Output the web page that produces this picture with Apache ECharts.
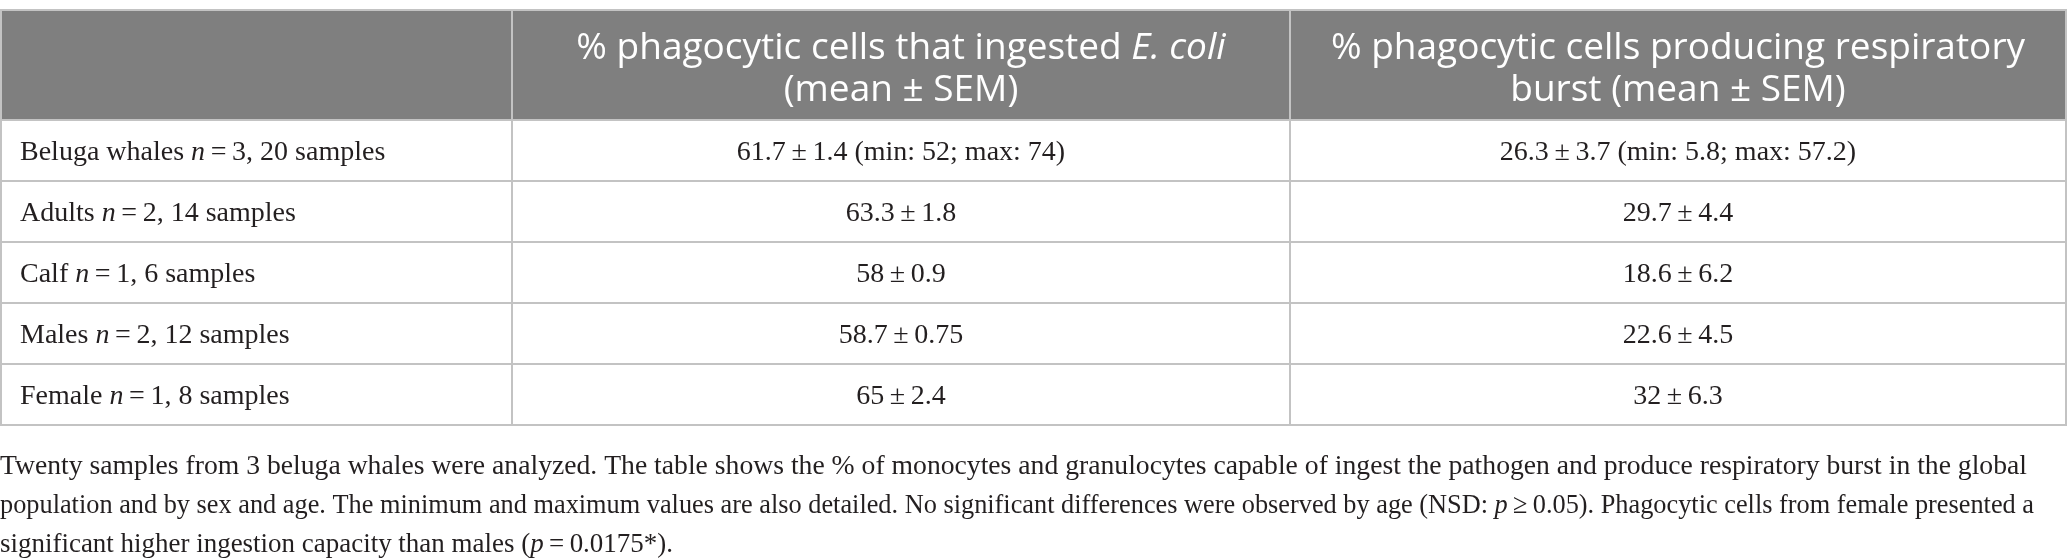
<!DOCTYPE html>
<html>
<head>
<meta charset="utf-8">
<script src="https://cdn.jsdelivr.net/npm/echarts@6/dist/echarts.min.js"></script>
<style>
html, body { margin: 0; padding: 0; background: #fff; }
#main { width: 2067px; height: 559px; }
</style>
</head>
<body>
<div id="main"></div>
<script>
// table content
var headers = ['', '% phagocytic cells that ingested {i|E. coli}\n(mean \u00b1 SEM)', '% phagocytic cells producing respiratory\nburst (mean \u00b1 SEM)'];
var groups = ['Beluga whales', 'Adults', 'Calf', 'Males', 'Female'];
var nWhales = [3, 2, 1, 2, 1];
var nSamples = [20, 14, 6, 12, 8];
var ingestMean = [61.7, 63.3, 58, 58.7, 65];
var ingestSem = [1.4, 1.8, 0.9, 0.75, 2.4];
var ingestMin = [52, null, null, null, null];
var ingestMax = [74, null, null, null, null];
var burstMean = [26.3, 29.7, 18.6, 22.6, 32];
var burstSem = [3.7, 4.4, 6.2, 4.5, 6.3];
var burstMin = [5.8, null, null, null, null];
var burstMax = [57.2, null, null, null, null];
var notes = [
	'Twenty samples from 3 beluga whales were analyzed. The table shows the % of monocytes and granulocytes capable of ingest the pathogen and produce respiratory burst in the global',
	'population and by sex and age. The minimum and maximum values are also detailed. No significant differences were observed by age (NSD: {i|p}\u2009\u2265\u20090.05). Phagocytic cells from female presented a',
	'significant higher ingestion capacity than males ({i|p}\u2009=\u20090.0175*).'
];

// layout (pixels on the hidden axes)
var COL_EDGES = [1, 512, 1290, 2066];
var ROW_EDGES = [10, 120, 181, 242, 303, 364, 425];
var NOTE_WIDTH = [2027, 2034, 673];
var HEAD_BG = '#7f7f7f';
var LINE = '#c3c3c3';
var SANS = '"Open Sans", "Noto Sans", sans-serif';
var SERIF = '"Liberation Serif", "DejaVu Serif", serif';

function meanSem(m, s, lo, hi) {
	var t = m + '\u2009\u00b1\u2009' + s;
	if (lo != null) {
		t += ' (min: ' + lo + '; max: ' + hi + ')';
	}
	return t;
}

var cells = [];
for (var c = 0; c < 3; c++) {
	cells.push({ value: [c, 0], text: headers[c] });
}
for (var i = 0; i < groups.length; i++) {
	cells.push({ value: [0, i + 1], text: groups[i] + ' {i|n}\u2009=\u2009' + nWhales[i] + ', ' + nSamples[i] + ' samples' });
	cells.push({ value: [1, i + 1], text: meanSem(ingestMean[i], ingestSem[i], ingestMin[i], ingestMax[i]) });
	cells.push({ value: [2, i + 1], text: meanSem(burstMean[i], burstSem[i], burstMin[i], burstMax[i]) });
}

function renderCell(params, api) {
	var c = api.value(0), r = api.value(1);
	var p0 = api.coord([COL_EDGES[c], ROW_EDGES[r]]);
	var p1 = api.coord([COL_EDGES[c + 1], ROW_EDGES[r + 1]]);
	var w = p1[0] - p0[0], h = p1[1] - p0[1];
	var head = r === 0;
	var font = head ? SANS : SERIF;
	var size = head ? 37 : 28;
	var color = head ? '#ffffff' : '#231f20';
	return {
		type: 'group',
		children: [{
			type: 'rect',
			shape: { x: p0[0], y: p0[1], width: w, height: h },
			style: { fill: head ? HEAD_BG : '#ffffff', stroke: LINE, lineWidth: 2 }
		}, {
			type: 'text',
			style: {
				text: cells[params.dataIndex].text,
				x: c === 0 ? p0[0] + 19 : p0[0] + w / 2,
				y: p0[1] + h / 2 + (head ? 4 : 2),
				align: c === 0 ? 'left' : 'center',
				verticalAlign: 'middle',
				fontFamily: font,
				fontSize: size,
				lineHeight: 42,
				fill: color,
				rich: {
					i: { fontStyle: 'italic', fontFamily: font, fontSize: size, fill: color, lineHeight: 42 }
				}
			}
		}]
	};
}

// squeeze/stretch each footnote line to the reference line length
var ctx = document.createElement('canvas').getContext('2d');
ctx.font = '28px ' + SERIF;
function noteScale(t, k) {
	if (!NOTE_WIDTH[k]) return 1;
	var plain = t.replace(/\{i\|([^}]*)\}/g, '$1');
	return NOTE_WIDTH[k] / ctx.measureText(plain).width;
}

var chart = echarts.init(document.getElementById('main'));
var option = {
	animation: false,
	grid: { left: 0, right: 0, top: 0, bottom: 0 },
	xAxis: { type: 'value', min: 0, max: 2067, show: false },
	yAxis: { type: 'value', min: 0, max: 559, inverse: true, show: false },
	series: [{
		type: 'custom',
		renderItem: renderCell,
		data: cells,
		silent: true
	}],
	graphic: notes.map(function (t, k) {
		return {
			type: 'text',
			x: 0,
			y: 453 + k * 39,
			scaleX: noteScale(t, k),
			style: {
				text: t,
				fontFamily: SERIF,
				fontSize: 28,
				fill: '#231f20',
				rich: {
					i: { fontStyle: 'italic', fontFamily: SERIF, fontSize: 28, fill: '#231f20' }
				}
			}
		};
	})
};
chart.setOption(option);
</script>
</body>
</html>
